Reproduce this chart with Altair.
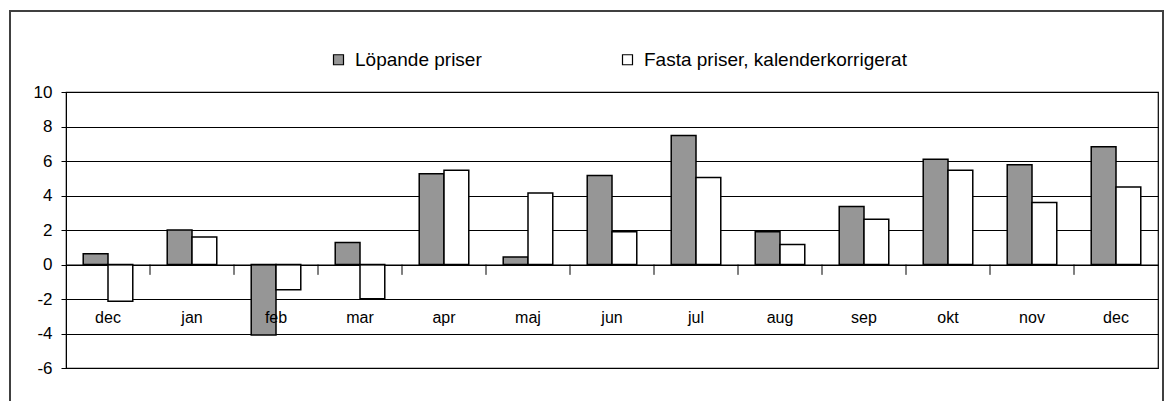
import altair as alt
import pandas as pd

months = ["dec", "jan", "feb", "mar", "apr", "maj", "jun", "jul", "aug", "sep", "okt", "nov", "dec"]
lopande = [0.62, 2.0, -4.08, 1.28, 5.26, 0.43, 5.16, 7.48, 1.9, 3.36, 6.1, 5.78, 6.82]
fasta = [-2.13, 1.59, -1.47, -1.99, 5.47, 4.14, 1.9, 5.04, 1.16, 2.63, 5.47, 3.59, 4.5]
series = ["Löpande priser", "Fasta priser, kalenderkorrigerat"]
colors = ["#969696", "#ffffff"]
y_ticks = [-6, -4, -2, 0, 2, 4, 6, 8, 10]

rows = []
for i, m in enumerate(months):
    rows.append({"idx": i, "month": m, "serie": series[0], "value": lopande[i]})
    rows.append({"idx": i, "month": m, "serie": series[1], "value": fasta[i]})
df = pd.DataFrame(rows)
cats = pd.DataFrame({"idx": list(range(1, len(months)))})

W, H = 1092, 276
STEP = W / len(months)
FONT = "Liberation Sans"
label_expr = "[" + ",".join(f"'{m}'" for m in months) + "][datum.value]"

xscale = alt.Scale(domain=list(range(len(months))), paddingInner=0.41, paddingOuter=0.205)
yscale = alt.Scale(domain=[-6, 10], nice=False)

x_axis = alt.Axis(title=None, labelExpr=label_expr, labelAngle=0, ticks=False,
                  domain=True, domainColor="black", domainWidth=1.2,
                  offset=-103.5, labelPadding=45, labelFontSize=16,
                  labelFont=FONT, labelColor="black", zindex=1)
y_axis = alt.Axis(title=None, values=y_ticks, grid=True,
                  gridColor="black", gridWidth=1, tickColor="black", tickSize=5,
                  domainColor="black", labelFontSize=17, labelFont=FONT,
                  labelColor="black", labelPadding=9, labelOverlap=False,
                  labelExpr="'' + datum.value", zindex=0)

bars = alt.Chart(df).mark_bar(stroke="black", strokeWidth=1.5).encode(
    x=alt.X("idx:O", scale=xscale, sort=None, axis=x_axis),
    xOffset=alt.XOffset("serie:N", sort=series, scale=alt.Scale(domain=series)),
    y=alt.Y("value:Q", scale=yscale, axis=y_axis),
    fill=alt.Fill("serie:N", sort=series,
                  scale=alt.Scale(domain=series, range=colors),
                  legend=alt.Legend(title=None, orient="none", direction="horizontal",
                                    legendX=263, legendY=-42, symbolType="square",
                                    symbolSize=100, symbolStrokeColor="black",
                                    symbolStrokeWidth=1.2, labelFontSize=19,
                                    labelFont=FONT, labelColor="black", labelLimit=0,
                                    columnPadding=136, labelOffset=7)),
)

ticks = alt.Chart(cats).mark_rule(color="black", strokeWidth=1, xOffset=-STEP / 2).encode(
    x=alt.X("idx:O", scale=xscale, axis=x_axis),
    y=alt.Y(datum=0, scale=yscale, axis=y_axis),
    y2=alt.Y2(datum=-0.6),
)

frame = alt.Chart(cats).mark_rect(fill=None, stroke="#404040", strokeWidth=2).encode(
    x=alt.value(-56), x2=alt.value(1097), y=alt.value(-81), y2=alt.value(340)
)

chart = alt.layer(frame, bars, ticks).properties(
    width=W, height=H,
    autosize=alt.AutoSizeParams(type="none"),
    padding={"left": 58, "top": 84, "right": 6, "bottom": 33},
).configure(background="white").configure_view(stroke="black", strokeWidth=1.2)

chart.save("out.html", embed_options={"renderer": "svg", "actions": False})
